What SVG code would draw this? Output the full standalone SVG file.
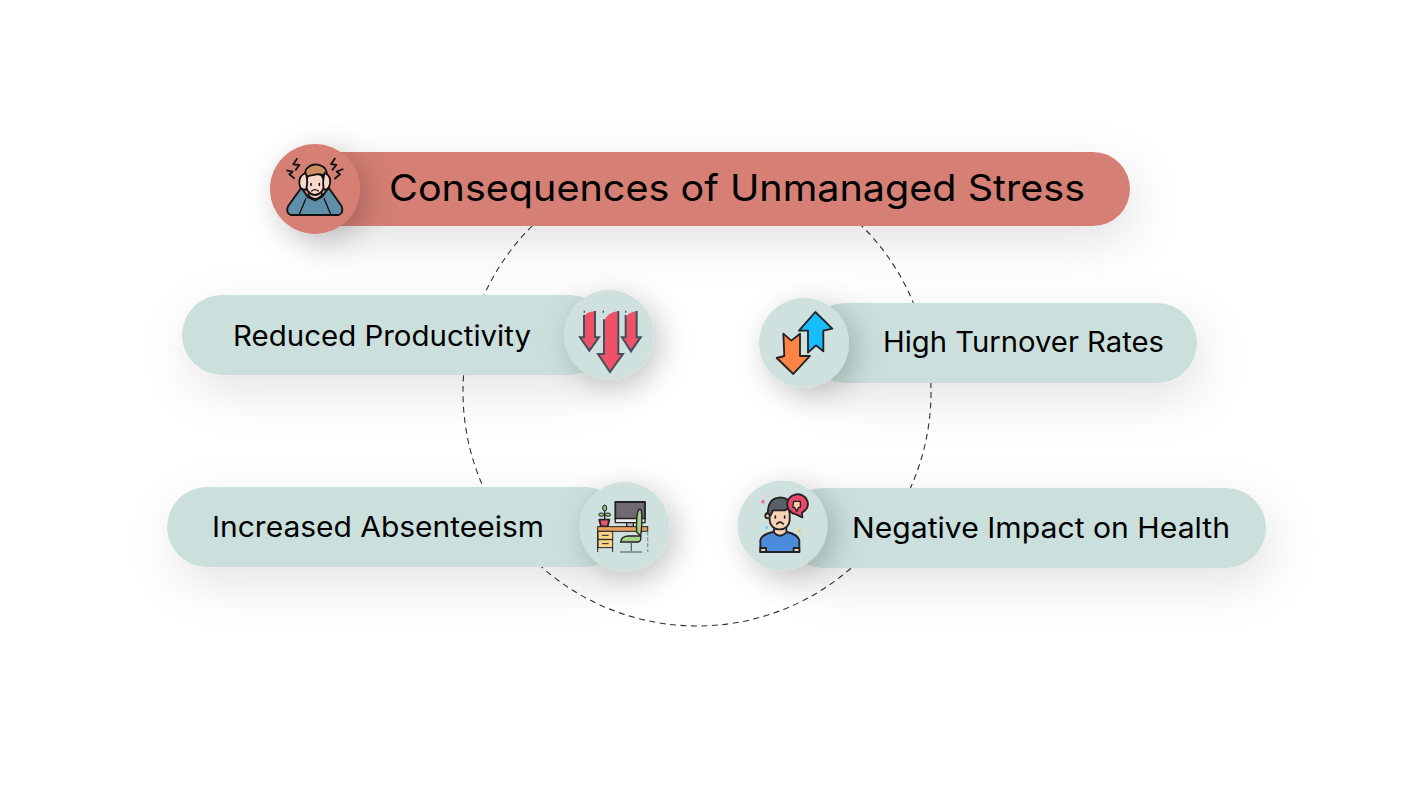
<svg xmlns="http://www.w3.org/2000/svg" width="1419" height="797" viewBox="0 0 1419 797">
<defs>
<filter id="ps" x="-25%" y="-100%" width="150%" height="320%"><feDropShadow dx="6" dy="16" stdDeviation="24" flood-color="#000" flood-opacity="0.11"/></filter>
<filter id="cs" x="-80%" y="-80%" width="260%" height="260%"><feDropShadow dx="7" dy="8" stdDeviation="15" flood-color="#000" flood-opacity="0.22"/></filter>
</defs>
<style>
.t{font-family:"Inter","Open Sans","Liberation Sans",sans-serif;fill:#000;font-size:28px}
.p{fill:#cbdfdc;filter:url(#ps)}
.r{fill:#d57f75;filter:url(#ps)}
.c{fill:#cfe1de;filter:url(#cs)}
.cr{fill:#d57f75;filter:url(#cs)}
.k{stroke:#111;stroke-width:5.5;stroke-linejoin:round;stroke-linecap:round}
.g{stroke:#43505c;stroke-width:6;stroke-linejoin:miter;fill:none}
.d{stroke:#222;stroke-width:5.5;stroke-linejoin:round;stroke-linecap:round}
</style>
<rect width="1419" height="797" fill="#fff"/>
<g id="connectors"><circle cx="697" cy="392" r="234" fill="none" stroke="#333" stroke-width="1.1" stroke-dasharray="6 4.5"/></g>

<g id="node-title">
<rect class="r" x="300" y="152" width="830" height="74" rx="37"/>
<circle class="cr" cx="315" cy="189" r="45"/>
<g transform="translate(260,135) scale(.3333)">
<path class="k" fill="#5f8fa9" d="M92 240H236Q252 234 245 214L206 158L186 186L165 196L143 186L124 158L84 214Q76 234 92 240Z"/>
<path d="M118 238L138 190M212 238L192 190" fill="none" stroke="#111" stroke-width="4"/>
<path class="k" fill="#f9d3c4" d="M145 180Q165 204 187 180L180 165H150Z"/>
<ellipse class="k" cx="165" cy="146" rx="28" ry="34" fill="#fcd8cc"/>
<path class="k" fill="#cc8d60" d="M133 126Q134 90 168 88Q204 92 200 126Q188 116 170 118Q150 122 133 126Z"/>
<path class="k" fill="#fcd8cc" d="M137 114Q116 122 118 146Q120 166 138 164Q146 140 137 114Z"/>
<path class="k" fill="#fcd8cc" d="M194 114Q214 122 210 146Q206 166 192 164Q186 140 194 114Z"/>
<path d="M153 146v5M178 146v5" stroke="#111" stroke-width="5" stroke-linecap="round"/>
<path d="M155 168q10-8 20 0" fill="none" stroke="#111" stroke-width="4" stroke-linecap="round"/>
<path d="M112 70L100 88L118 90L106 106M79 106L98 110L88 118L104 131M226 69L213 87L229 90L216 106M250 102L230 110L240 118L223 132" fill="none" stroke="#111" stroke-width="5.5" stroke-linejoin="round"/>
</g>
<text class="t" x="389" y="201" style="font-size:37px" textLength="696" lengthAdjust="spacingAndGlyphs">Consequences of Unmanaged Stress</text>
</g>

<g id="node-productivity">
<rect class="p" x="182" y="295" width="428" height="80" rx="40"/>
<circle class="c" cx="609" cy="335" r="45"/>
<g transform="translate(555,280) scale(.3333)">
<path fill="#f15168" d="M87 108Q95 96 120 93V172H132L103 212L75 172H87Z"/>
<path fill="#f15168" d="M147 125Q155 97 190 93V222H204L165 276L129 222H147Z"/>
<path fill="#f15168" d="M212 112Q220 97 245 93V172H257L228 214L201 172H212Z"/>
<path class="g" d="M87 105V172H75L103 212L132 172H120V93"/>
<path class="g" d="M147 118V222H129L165 276L204 222H190V93"/>
<path class="g" d="M212 105V172H201L228 214L257 172H245V93"/>
<path d="M88 92v6M145 92v6M212 92v6" stroke="#43505c" stroke-width="4"/>
</g>
<text class="t" x="233" y="346" textLength="298" lengthAdjust="spacingAndGlyphs">Reduced Productivity</text>
</g>

<g id="node-turnover">
<rect class="p" x="805" y="303" width="392" height="80" rx="40"/>
<circle class="c" cx="804" cy="343" r="45"/>
<g transform="translate(750,290) scale(.3333)">
<path class="d" fill="#18bdff" d="M196 66L247 116L220 122V184L198 166L174 188V122H147Z"/>
<path class="d" fill="#ff8344" d="M100 131L124 152L150 131V198H180L130 252L80 204L103 198Z"/>
</g>
<text class="t" x="883" y="352" textLength="281" lengthAdjust="spacingAndGlyphs">High Turnover Rates</text>
</g>

<g id="node-absenteeism">
<rect class="p" x="167" y="487" width="458" height="80" rx="40"/>
<circle class="c" cx="624.5" cy="527" r="45"/>
<g transform="translate(570,472) scale(.3333)">
<path class="d" fill="#6f6a72" d="M136 90H225V140H136Z"/>
<path d="M136 140H225V152H136Z" fill="#eceeee" stroke="#222" stroke-width="4"/>
<path fill="#bbb" stroke="#222" stroke-width="4" d="M170 152H190V165H170Z"/>
<path class="d" fill="#e6576a" d="M88 143H118L113 163H93Z"/>
<path d="M104 143V105" stroke="#222" stroke-width="4"/>
<ellipse cx="104" cy="108" rx="6" ry="9" fill="#8cc77d" stroke="#222" stroke-width="3"/>
<ellipse cx="94" cy="128" rx="8" ry="5" fill="#8cc77d" stroke="#222" stroke-width="3"/>
<ellipse cx="114" cy="128" rx="8" ry="5" fill="#8cc77d" stroke="#222" stroke-width="3"/>
<rect x="83" y="164" width="150" height="14" fill="#e8a060" stroke="#222" stroke-width="3"/>
<rect x="84" y="178" width="44" height="24" fill="#fbd48a" stroke="#222" stroke-width="3"/>
<rect x="84" y="203" width="44" height="24" fill="#fbd48a" stroke="#222" stroke-width="3"/>
<path d="M96 190h20M96 215h20" stroke="#222" stroke-width="3"/>
<path d="M83 178V240M128 227V240" stroke="#222" stroke-width="3"/>
<path d="M233 178V240" stroke="#88979a" stroke-width="4" stroke-dasharray="12 6"/>
<path fill="#a6d388" stroke="#222" stroke-width="4" d="M207 112Q198 125 200 180L212 192Q218 150 214 114Z"/>
<path fill="#a6d388" stroke="#222" stroke-width="4" d="M152 210Q155 192 175 192H212Q215 208 205 210Z"/>
<path d="M184 210V238" stroke="#56666a" stroke-width="4"/><path d="M150 240H216" stroke="#7d8c8e" stroke-width="5"/>
</g>
<text class="t" x="212" y="537" textLength="332" lengthAdjust="spacingAndGlyphs">Increased Absenteeism</text>
</g>

<g id="node-health">
<rect class="p" x="783" y="488" width="483" height="80" rx="40"/>
<circle class="c" cx="782.5" cy="525.5" r="45"/>
<g transform="translate(728,472) scale(.3333)">
<path class="d" fill="#4a8bdc" d="M97 240V205Q100 188 135 180H177Q210 188 214 205V240Z"/>
<path class="d" fill="#f9d3b6" d="M97 228H114V240H97ZM197 228H214V240H197Z"/>
<path class="d" fill="#f9d3b6" d="M138 165V182Q155 200 175 182V165Z"/>
<circle class="d" cx="120" cy="131" r="8" fill="#f9d3b6"/>
<rect class="d" x="125" y="98" width="60" height="74" rx="28" fill="#f9d3b6"/>
<path class="d" fill="#5b5f66" d="M120 125Q117 78 158 76Q188 78 190 105L170 115H135L128 130Z"/>
<path d="M142 132v6M170 132v6" stroke="#222" stroke-width="5" stroke-linecap="round"/>
<path d="M146 156q10-11 20 0" fill="none" stroke="#222" stroke-width="5" stroke-linecap="round"/>
<path class="d" fill="#e9476a" d="M178 100A31 29 0 1 1 222 122L223 136L204 127A31 29 0 0 1 178 100Z"/>
<path d="M197 88H217V106H212L206 118L200 106H194Z" fill="#f9c9a8" stroke="#222" stroke-width="4" stroke-linejoin="round"/>
<path d="M105 82l6 7-6 7-6-7Z" fill="#f06a93"/>
<circle cx="120" cy="72" r="3" fill="#f5c95a"/><circle cx="116" cy="167" r="4" fill="#5fcbe8"/><circle cx="214" cy="176" r="5" fill="#f5c95a"/><circle cx="226" cy="196" r="2" fill="#8cc77d"/>
</g>
<text class="t" x="852" y="538" textLength="378" lengthAdjust="spacingAndGlyphs">Negative Impact on Health</text>
</g>
</svg>
